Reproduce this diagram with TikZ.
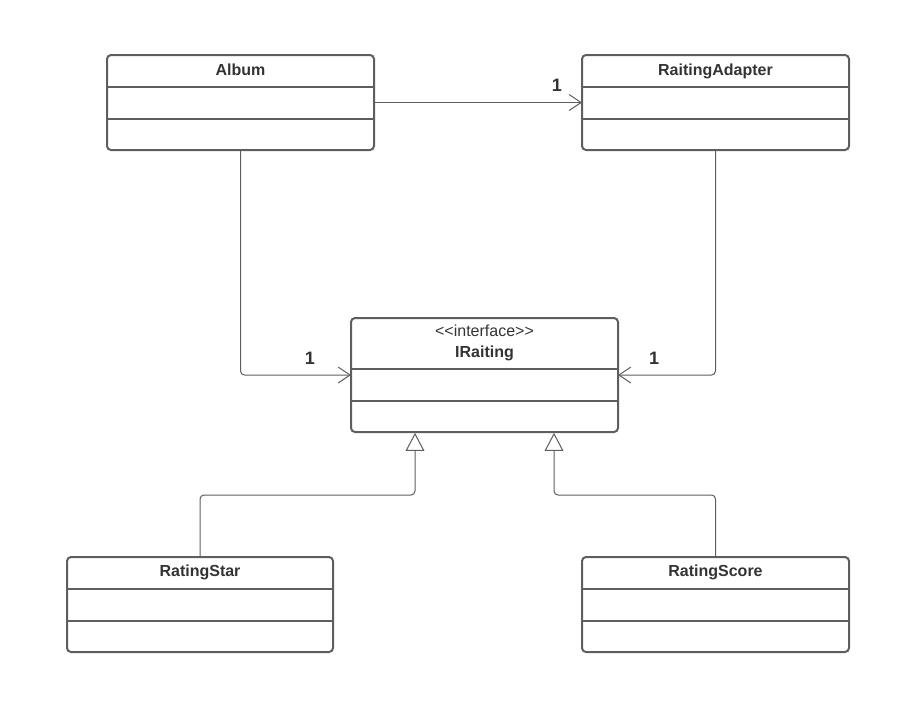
\documentclass[tikz,border=0pt]{standalone}
\usepackage{fontspec}
\setmainfont{Liberation Sans}
\usetikzlibrary{arrows.meta}
\definecolor{ln}{HTML}{5E5E5E}
\definecolor{tx}{HTML}{333333}
\begin{document}
\begin{tikzpicture}[x=0.75pt,y=-0.75pt,
  cls/.style={draw=ln,line width=1.5pt,rounded corners=3pt,minimum width=200.25pt,minimum height=71.25pt,inner sep=0pt,outer sep=0pt,anchor=north west},
  divl/.style={draw=ln,line width=1.5pt},
  title/.style={text=tx,font=\fontsize{12}{14}\selectfont\bfseries,inner sep=0pt,anchor=base},
  stereo/.style={text=tx,font=\fontsize{12}{14}\selectfont,inner sep=0pt,anchor=base},
  mult/.style={text=tx,font=\fontsize{13.5}{15}\selectfont\bfseries,inner sep=0pt,anchor=base},
  assoc/.style={draw=ln,line width=0.75pt,rounded corners=3pt,-{Straight Barb[length=9pt,width=12pt,line width=0.75pt]}},
  inh/.style={draw=ln,line width=0.75pt,rounded corners=3pt,-{Triangle[open,fill=white,length=13.5pt,width=14pt,line width=0.75pt]}}
]
\useasboundingbox (0,0) rectangle (922,704);

% class boxes
\node[cls] (album) at (107,55) {};
\node[cls] (adapter) at (582,55) {};
\node[cls,minimum height=85.5pt] (ir) at (351,318) {};
\node[cls,minimum width=199.5pt] (star) at (67,557) {};
\node[cls] (score) at (582,557) {};

% compartments
\draw[divl] (album.west |- 0,87) -- (album.east |- 0,87);
\draw[divl] (album.west |- 0,119) -- (album.east |- 0,119);
\draw[divl] (adapter.west |- 0,87) -- (adapter.east |- 0,87);
\draw[divl] (adapter.west |- 0,119) -- (adapter.east |- 0,119);
\draw[divl] (ir.west |- 0,369) -- (ir.east |- 0,369);
\draw[divl] (ir.west |- 0,401) -- (ir.east |- 0,401);
\draw[divl] (star.west |- 0,589) -- (star.east |- 0,589);
\draw[divl] (star.west |- 0,621) -- (star.east |- 0,621);
\draw[divl] (score.west |- 0,589) -- (score.east |- 0,589);
\draw[divl] (score.west |- 0,621) -- (score.east |- 0,621);

% titles
\node[title] (albumt) at (240.5,75) {Album};
\node[title] (adaptert) at (715.5,75) {RaitingAdapter};
\node[stereo] (irs) at (484.5,336.5) {<{}<interface>{}>};
\node[title] (irt) at (484.5,357.5) {IRaiting};
\node[title] (start) at (200,576.5) {RatingStar};
\node[title] (scoret) at (715.5,576.5) {RatingScore};

% associations
\draw[assoc] (album.east) -- (adapter.west);
\draw[assoc] (album.south) |- (ir.west);
\draw[assoc] (adapter.south) |- (ir.east);

\node[mult] (m1) at (557,91.5) {1};
\node[mult] (m2) at (310,364.5) {1};
\node[mult] (m3) at (654,364.5) {1};

% inheritance
\coordinate (t1) at (415,432.8);
\coordinate (t2) at (554,432.8);
\coordinate (k1) at (415,495);
\coordinate (k2) at (554,495);
\draw[inh] (star.north) |- (k1) -- (t1);
\draw[inh] (score.north) |- (k2) -- (t2);
\end{tikzpicture}
\end{document}
